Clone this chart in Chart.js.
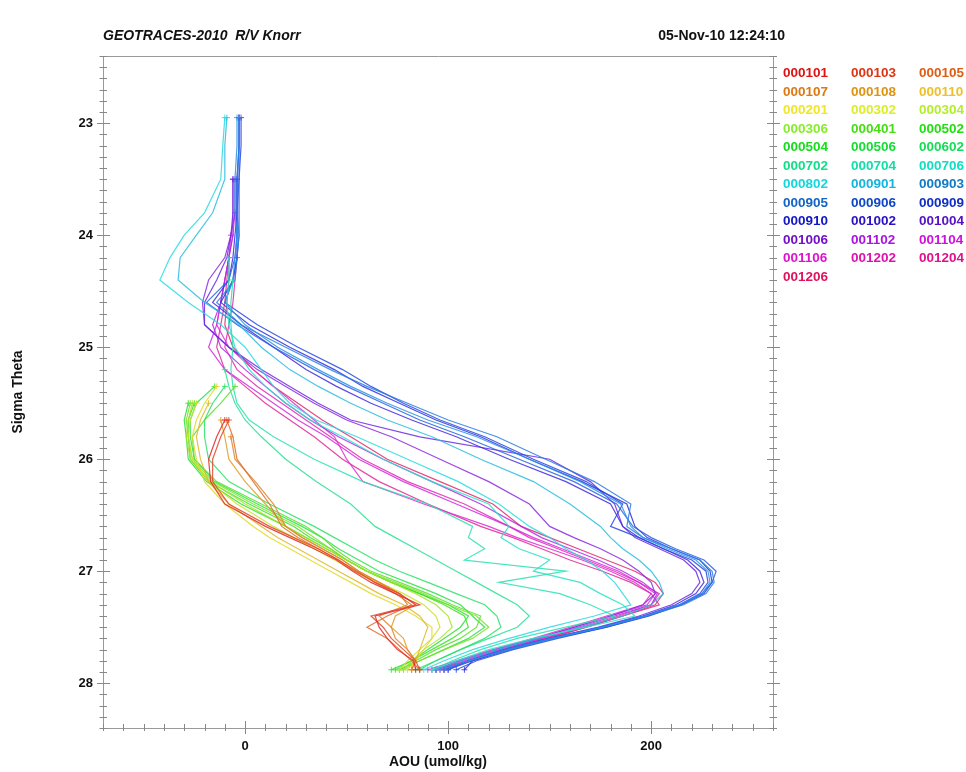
<!DOCTYPE html>
<html><head><meta charset="utf-8">
<script src="https://cdn.jsdelivr.net/npm/chart.js@4.4.0/dist/chart.umd.min.js"></script>
<style>
html,body{margin:0;padding:0;background:#fff;}
#wrap{position:relative;width:966px;height:772px;overflow:hidden;}
#c{position:absolute;left:0;top:0;}
.hdr{position:absolute;font-family:"Liberation Sans",Arial,sans-serif;font-weight:bold;font-size:14px;color:#111;white-space:nowrap;}
#legend{position:absolute;left:783px;top:65px;font-family:"Liberation Sans",Arial,sans-serif;font-weight:bold;font-size:13.5px;}
#legend div{position:absolute;white-space:nowrap;line-height:16px;}
</style></head><body>
<div id="wrap">
<canvas id="c" width="966" height="772"></canvas>
<div class="hdr" style="left:103px;top:27px;font-style:italic">GEOTRACES-2010&nbsp; R/V Knorr</div>
<div class="hdr" style="right:181px;top:27px">05-Nov-10 12:24:10</div>
<div id="legend"></div>
</div>
<script>
// ---- data: sigma-theta levels (shared), AOU per station aligned to the deepest levels ----
const sigmaLevels = [22.95, 23.2, 23.5, 23.8, 24.0, 24.2, 24.4, 24.6, 24.8, 25.0, 25.2, 25.35, 25.5, 25.65, 25.8, 26.0, 26.2, 26.4, 26.6, 26.7, 26.8, 26.9, 27.0, 27.1, 27.2, 27.3, 27.4, 27.5, 27.6, 27.7, 27.8, 27.88];
const stations = ["000101","000103","000105","000107","000108","000110","000201","000302","000304","000306","000401","000502","000504","000506","000602","000702","000704","000706","000802","000901","000903","000905","000906","000909","000910","001002","001004","001006","001102","001104","001106","001202","001204","001206"];
const xTickLabels = [0, 100, 200];
const yTickLabels = [23, 24, 25, 26, 27, 28];

const aou000101 = [-10, -14, -18, -17, -10, 10, 22, 34, 45, 53, 62, 74, 86, 64, 66, 70, 75, 83, 84];
const aou000103 = [-8, -12, -16, -16, -8, 12, 24, 36, 46, 55, 64, 76, 84, 62, 68, 72, 78, 84, 86];
const aou000105 = [-9, -6, -4, 4, 12, 18, 26, 36, 46, 54, 64, 74, 82, 70, 60, 70, 76, 82, 86];
const aou000107 = [-7, -5, 5, 14, 20, 28, 38, 48, 56, 66, 76, 80, 66, 72, 74, 80, 84, 82];
const aou000108 = [-12, -10, -8, 0, 10, 20, 28, 38, 48, 56, 66, 76, 84, 74, 72, 78, 80, 84, 82];
const aou000110 = [-18, -22, -24, -22, -18, -8, 8, 16, 26, 36, 46, 56, 66, 78, 86, 90, 88, 86, 84, 82];
const aou000201 = [-14, -20, -24, -26, -24, -20, -10, 4, 12, 22, 32, 42, 52, 62, 74, 84, 92, 92, 88, 84, 80];
const aou000302 = [-24, -27, -28, -26, -18, -4, 14, 24, 34, 44, 54, 66, 78, 88, 94, 96, 92, 86, 80, 76];
const aou000304 = [-26, -28, -29, -27, -17, 0, 20, 30, 40, 50, 60, 72, 84, 94, 100, 102, 96, 88, 82, 78];
const aou000306 = [-27, -29, -28, -26, -16, 4, 26, 34, 42, 50, 60, 74, 88, 100, 114, 120, 112, 98, 86, 78];
const aou000401 = [-5, -12, -20, -26, -25, -14, 8, 30, 38, 44, 52, 62, 76, 90, 102, 116, 114, 106, 94, 84, 76];
const aou000502 = [-25, -28, -28, -27, -18, 2, 24, 32, 42, 50, 60, 72, 86, 98, 108, 110, 102, 92, 82, 74];
const aou000504 = [-28, -30, -29, -28, -19, -2, 20, 30, 40, 50, 60, 72, 86, 100, 110, 106, 98, 90, 82, 72];
const aou000506 = [-15, -24, -27, -27, -25, -15, 6, 28, 38, 46, 56, 66, 80, 94, 106, 112, 118, 110, 98, 86, 76];
const aou000602 = [-10, -16, -20, -20, -18, -8, 12, 34, 44, 54, 64, 76, 90, 104, 118, 124, 126, 118, 106, 94, 84];
const aou000702 = [-10, -8, -5, 0, 8, 20, 35, 52, 64, 74, 84, 94, 104, 114, 124, 134, 140, 134, 120, 106, 94, 86];
const aou000704 = [-6, -7, -7, -6, -7, -6, -4, 2, 14, 34, 58, 90, 112, 110, 118, 108, 158, 125, 155, 170, 182, 158, 134, 116, 102, 92];
const aou000706 = [-8, -8, -9, -8, -5, 2, 10, 20, 32, 48, 68, 92, 120, 130, 126, 135, 150, 142, 165, 175, 186, 192, 168, 142, 120, 104, 92];
const aou000802 = [-10, -11, -12, -20, -30, -37, -42, -28, -12, 0, 8, 14, 22, 35, 55, 80, 105, 125, 140, 150, 158, 168, 176, 182, 186, 190, 172, 150, 130, 112, 98, 88];
const aou000901 = [-9, -10, -10, -16, -24, -32, -33, -20, -3, 8, 22, 36, 52, 70, 92, 116, 142, 160, 175, 180, 186, 194, 200, 204, 206, 200, 186, 166, 144, 124, 106, 94];
const aou000903 = [-4, -4, -5, -5, -4, -5, -6, -10, 0, 16, 36, 52, 70, 90, 114, 140, 165, 185, 190, 196, 208, 222, 228, 229, 225, 214, 197, 176, 152, 130, 110, 96];
const aou000905 = [-3, -3, -4, -4, -3, -4, -5, -14, -2, 20, 42, 60, 80, 100, 124, 148, 172, 190, 188, 196, 210, 224, 230, 231, 227, 216, 198, 177, 150, 128, 110, 98];
const aou000906 = [-3, -3, -3, -4, -4, -5, -8, -19, -4, 14, 34, 50, 68, 86, 108, 135, 162, 183, 191, 200, 212, 226, 232, 230, 225, 214, 196, 175, 150, 128, 112, 100];
const aou000909 = [-2, -2, -3, -3, -3, -4, -6, -10, 6, 26, 48, 62, 78, 96, 118, 142, 168, 186, 180, 194, 206, 220, 227, 228, 224, 214, 198, 178, 154, 132, 114, 104];
const aou000910 = [-3, -3, -4, -4, -4, -4, -6, -12, 2, 22, 44, 58, 76, 94, 116, 140, 166, 188, 192, 198, 210, 224, 229, 230, 226, 215, 199, 178, 152, 130, 112, 108];
const aou001002 = [-4, -4, -5, -6, -8, -16, -2, 14, 30, 45, 62, 82, 104, 130, 158, 180, 186, 194, 206, 218, 224, 226, 222, 212, 196, 176, 150, 128, 110, 100];
const aou001004 = [-6, -6, -7, -9, -14, -20, -20, -8, 8, 22, 36, 52, 86, 150, 170, 182, 186, 192, 204, 216, 222, 224, 220, 210, 194, 174, 150, 128, 110, 98];
const aou001006 = [-5, -5, -7, -10, -18, -21, -20, -8, 6, 20, 34, 50, 72, 96, 120, 140, 150, 162, 175, 186, 194, 200, 202, 196, 180, 162, 144, 124, 106, 94];
const aou001102 = [-6, -6, -6, -8, -10, -12, -16, -12, 0, 10, 20, 32, 46, 68, 92, 116, 136, 146, 160, 174, 186, 196, 203, 200, 182, 164, 146, 126, 108, 94];
const aou001104 = [-7, -8, -10, -12, -14, -18, -10, 2, 14, 26, 40, 56, 78, 104, 130, 142, 156, 170, 184, 194, 202, 198, 180, 162, 144, 124, 106, 92];
const aou001106 = [-5, -6, -8, -10, -12, -14, -8, 4, 14, 24, 34, 44, 50, 58, 88, 120, 134, 150, 166, 180, 192, 200, 196, 178, 160, 142, 122, 104, 90];
const aou001202 = [-4, -5, -6, -8, -10, -4, 6, 18, 30, 42, 58, 80, 108, 130, 140, 154, 168, 182, 194, 204, 200, 184, 166, 148, 128, 110, 96];
const aou001204 = [-8, -9, -10, -12, -14, -10, 0, 10, 22, 34, 48, 66, 90, 116, 132, 146, 160, 176, 190, 200, 204, 186, 168, 150, 130, 112, 98];
const aou001206 = [-8, -8, -9, -10, -6, 4, 14, 26, 38, 52, 70, 96, 122, 136, 150, 164, 178, 192, 202, 206, 202, 186, 168, 148, 128, 110, 94];

const aouByStation = {
  "000101": aou000101, "000103": aou000103, "000105": aou000105, "000107": aou000107, "000108": aou000108,
  "000110": aou000110, "000201": aou000201, "000302": aou000302, "000304": aou000304, "000306": aou000306,
  "000401": aou000401, "000502": aou000502, "000504": aou000504, "000506": aou000506, "000602": aou000602,
  "000702": aou000702, "000704": aou000704, "000706": aou000706, "000802": aou000802, "000901": aou000901,
  "000903": aou000903, "000905": aou000905, "000906": aou000906, "000909": aou000909, "000910": aou000910,
  "001002": aou001002, "001004": aou001004, "001006": aou001006, "001102": aou001102, "001104": aou001104,
  "001106": aou001106, "001202": aou001202, "001204": aou001204, "001206": aou001206
};

// ---- styles ----
const hues = [0, 10, 22, 30, 38, 46, 58, 66, 78, 92, 105, 115, 122, 130, 140, 155, 165, 172, 182, 192, 205, 212, 222, 230, 238, 248, 262, 272, 285, 295, 305, 315, 325, 338];
const lineColor = h => `hsla(${h}, 75%, 52%, 0.85)`;
const textLight = h => (h >= 40 && h <= 100) ? 55 : (h > 200 && h < 280) ? 42 : 47;
const textColor = h => `hsl(${h}, 85%, ${textLight(h)}%)`;

const datasets = stations.map((st, i) => {
  const vals = aouByStation[st];
  const lv = sigmaLevels.slice(sigmaLevels.length - vals.length);
  const pts = vals.map((v, k) => ({x: v, y: lv[k]}));
  const last = pts.length - 1;
  return {
    label: st,
    data: pts,
    showLine: true,
    borderColor: lineColor(hues[i]),
    backgroundColor: lineColor(hues[i]),
    borderWidth: 1.2,
    tension: 0,
    pointStyle: 'cross',
    pointBorderWidth: 1,
    pointRadius: ctx => (ctx.dataIndex === 0 || ctx.dataIndex === last) ? 3 : 0,
    pointHoverRadius: 0
  };
});

// legend (HTML text)
const leg = document.getElementById('legend');
stations.forEach((st, i) => {
  const d = document.createElement('div');
  d.textContent = st;
  d.style.left = (i % 3) * 68 + 'px';
  d.style.top = Math.floor(i / 3) * 18.5 + 'px';
  d.style.color = textColor(hues[i]);
  leg.appendChild(d);
});

const frameAndTicks = {
  id: 'frameAndTicks',
  afterDraw(chart) {
    const {ctx, chartArea: a, scales: {x, y}} = chart;
    ctx.save();
    ctx.strokeStyle = '#999';
    ctx.lineWidth = 1;
    ctx.beginPath();
    ctx.rect(Math.round(a.left) + 0.5, Math.round(a.top) + 0.5, Math.round(a.right - a.left), Math.round(a.bottom - a.top));
    ctx.stroke();
    ctx.strokeStyle = '#888';
    ctx.beginPath();
    for (let i = 0; i <= Math.round((y.max - y.min) * 10); i++) {
      const v = y.min + i / 10;
      const py = Math.round(y.getPixelForValue(v)) + 0.5;
      const major = Math.abs(v - Math.round(v)) < 1e-6;
      const l = major ? 6 : 3.5, r = major ? 7 : 4;
      ctx.moveTo(a.left - l, py); ctx.lineTo(a.left + r, py);
      ctx.moveTo(a.right - l, py); ctx.lineTo(a.right + r, py);
    }
    for (let i = 0; i <= Math.round((x.max - x.min) / 10); i++) {
      const v = x.min + i * 10;
      const px = Math.round(x.getPixelForValue(v)) + 0.5;
      const major = v % 100 === 0;
      ctx.moveTo(px, a.bottom - (major ? 7 : 4)); ctx.lineTo(px, a.bottom + (major ? 6 : 3));
    }
    ctx.stroke();
    ctx.restore();
  }
};

const fontMain = {family: '"Liberation Sans", Arial, sans-serif', weight: 'bold', size: 13};

new Chart(document.getElementById('c'), {
  type: 'scatter',
  data: {datasets},
  options: {
    responsive: false,
    animation: false,
    layout: {padding: {left: 0, top: 56, right: 193, bottom: 0}},
    plugins: {legend: {display: false}, tooltip: {enabled: false}, title: {display: false}},
    scales: {
      x: {
        type: 'linear', min: -70, max: 260,
        afterFit: s => { s.height = 44; },
        afterBuildTicks: s => { s.ticks = xTickLabels.map(v => ({value: v})); },
        grid: {display: false, drawTicks: false},
        border: {display: false},
        ticks: {padding: 11, color: '#111', font: fontMain, maxRotation: 0},
        title: {display: true, text: 'AOU (umol/kg)', color: '#111', font: {...fontMain, size: 14}, padding: {top: 0, bottom: 1}}
      },
      y: {
        type: 'linear', reverse: true, min: 22.4, max: 28.4,
        afterFit: s => { s.width = 103; },
        afterBuildTicks: s => { s.ticks = yTickLabels.map(v => ({value: v})); },
        grid: {display: false, drawTicks: false},
        border: {display: false},
        ticks: {padding: 10, color: '#111', font: fontMain},
        title: {display: true, text: 'Sigma Theta', color: '#111', font: {...fontMain, size: 14}, padding: {top: 10, bottom: 0}}
      }
    }
  },
  plugins: [frameAndTicks]
});
</script>
</body></html>
